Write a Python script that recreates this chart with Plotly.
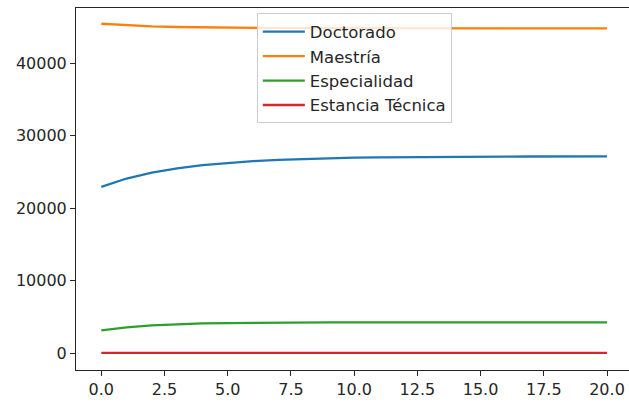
import plotly.graph_objects as go

# Años de proyección (eje x)
anios = list(range(21))

# Series por tipo de programa
doctorado = [22950, 24100, 24900, 25500, 25950, 26250, 26500, 26680, 26810, 26900,
             26970, 27020, 27060, 27090, 27110, 27120, 27130, 27140, 27145, 27150, 27150]
maestria = [45450, 45230, 45090, 45000, 44940, 44900, 44870, 44850, 44835, 44825,
            44818, 44812, 44808, 44805, 44803, 44801, 44800, 44800, 44799, 44799, 44799]
especialidad = [3150, 3580, 3850, 4010, 4110, 4170, 4210, 4230, 4245, 4252,
                4256, 4259, 4261, 4262, 4263, 4264, 4264, 4265, 4265, 4265, 4265]
estancia = [40, 40, 40, 40, 40, 40, 40, 40, 40, 40,
            40, 40, 40, 40, 40, 40, 40, 40, 40, 40, 40]

series = [
    ("Doctorado", doctorado, "#1f77b4"),
    ("Maestría", maestria, "#ff7f0e"),
    ("Especialidad", especialidad, "#2ca02c"),
    ("Estancia Técnica", estancia, "#d62728"),
]

x_ticks = [0, 2.5, 5, 7.5, 10, 12.5, 15, 17.5, 20]
x_tick_labels = ["0.0", "2.5", "5.0", "7.5", "10.0", "12.5", "15.0", "17.5", "20.0"]
y_ticks = [0, 10000, 20000, 30000, 40000]
y_tick_labels = ["0", "10000", "20000", "30000", "40000"]

fig = go.Figure()
for nombre, valores, color in series:
    fig.add_trace(go.Scatter(
        x=anios, y=valores, mode="lines", name=nombre,
        line=dict(color=color, width=2.3),
    ))

font = dict(family="DejaVu Sans", size=16, color="#262626")

fig.update_layout(
    width=629, height=403,
    margin=dict(l=76, r=0, t=8, b=33),
    paper_bgcolor="white", plot_bgcolor="white",
    font=font,
    showlegend=True,
    legend=dict(
        x=0.327, y=0.985, xanchor="left", yanchor="top",
        bgcolor="rgba(255,255,255,0.8)",
        bordercolor="#cccccc", borderwidth=1,
        font=dict(family="DejaVu Sans", size=16.5, color="#262626"),
        itemwidth=42,
        tracegroupgap=0,
    ),
    xaxis=dict(
        range=[-1, 20.87],
        tickmode="array", tickvals=x_ticks, ticktext=x_tick_labels,
        showgrid=False, zeroline=False,
        showline=True, linecolor="#262626", linewidth=1, mirror=True,
        ticks="outside", ticklen=5, tickwidth=1, tickcolor="#262626",
    ),
    yaxis=dict(
        range=[-2309, 47620],
        tickmode="array", tickvals=y_ticks, ticktext=y_tick_labels,
        showgrid=False, zeroline=False,
        showline=True, linecolor="#262626", linewidth=1, mirror=False,
        ticks="outside", ticklen=5, tickwidth=1, tickcolor="#262626",
    ),
)

fig.write_html("out.html")
